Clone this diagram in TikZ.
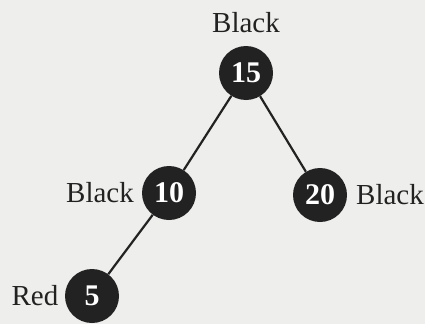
\documentclass[tikz,border=0pt]{standalone}
\usepackage{fontspec}
\setmainfont{Liberation Serif}
\definecolor{paper}{RGB}{238,238,236}
\definecolor{ink}{RGB}{34,34,34}
\begin{document}
\begin{tikzpicture}[x=1pt,y=-1pt,
  rbnode/.style={circle,fill=ink,minimum size=54pt,inner sep=0pt,text=white,
    font=\fontsize{30}{30}\selectfont\bfseries},
  colour/.style={font=\fontsize{29}{29}\selectfont,text=ink,inner sep=0pt,anchor=base},
  link/.style={line width=2.2pt,draw=ink}]
\useasboundingbox (0,0) rectangle (425,324);
\clip (0,0) rectangle (425,324);
\fill[paper] (0,0) rectangle (425,324);

% tree nodes
\node[rbnode] (n15) at (246,73) {15};
\node[rbnode] (n10) at (169,193) {10};
\node[rbnode] (n20) at (320,195) {20};
\node[rbnode] (n5)  at (92,296) {5};

% edges
\draw[link] (n15) -- (n10);
\draw[link] (n15) -- (n20);
\draw[link] (n10) -- (n5);

% colour labels
\node[colour] (c15) at (246,32) {Black};
\node[colour] (c10) at (100,202) {Black};
\node[colour] (c20) at (390,204) {Black};
\node[colour] (c5)  at (35,305) {Red};
\end{tikzpicture}
\end{document}
